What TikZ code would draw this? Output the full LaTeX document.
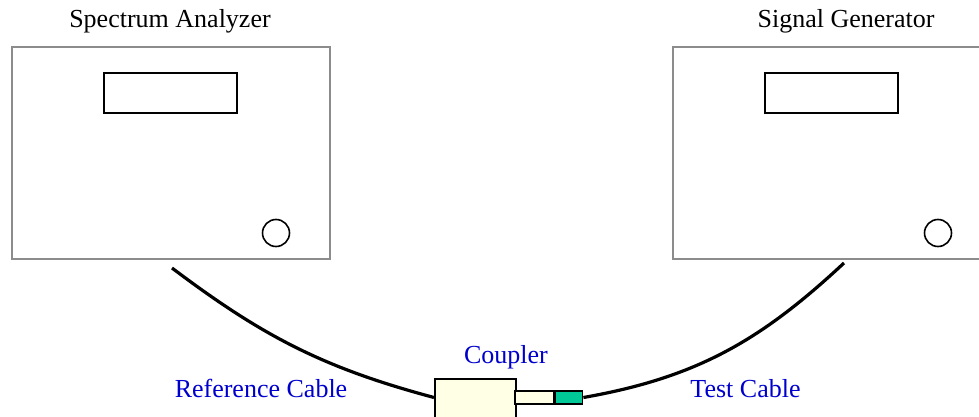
\documentclass[tikz,border=0pt]{standalone}
\usepackage{fontspec}
\setmainfont{Liberation Serif}
\definecolor{labelblue}{RGB}{0,0,204}
\definecolor{couplerfill}{RGB}{255,255,230}
\definecolor{tipgreen}{RGB}{0,200,150}
\tikzset{
	instrument/.style={draw=gray!90,line width=1pt,inner sep=0pt},
	display/.style={draw,line width=0.8pt,inner sep=0pt,minimum width=66.5pt,minimum height=20pt},
	knob/.style={draw,circle,line width=0.8pt,inner sep=0pt,minimum size=13.5pt},
	cable/.style={line width=1.6pt},
	label/.style={font=\fontsize{13}{15}\selectfont,anchor=base},
}
\begin{document}
\begin{tikzpicture}[x=0.5pt,y=-0.5pt]
		\useasboundingbox(0,0)rectangle(979,417);
		% instruments
		\node[instrument,minimum width=159pt,minimum height=106pt](sa)at(171,153){};
		\node[instrument,minimum width=154.5pt,minimum height=106pt](sg)at(827.5,153){};
		\node[display](sadisp)at(170.5,93){};
		\node[display](sgdisp)at(831.5,93){};
		\node[knob](saknob)at(276,233){};
		\node[knob](sgknob)at(938,233){};
		\node[label](salabel)at(170,28){Spectrum Analyzer};
		\node[label](sglabel)at(846,28){Signal Generator};
		% coupler
		\node[draw,fill=couplerfill,line width=0.8pt,inner sep=0pt,minimum width=40.5pt,minimum height=30pt,anchor=north west](coupler)at(434,378){};
		\node[draw,fill=couplerfill,line width=0.8pt,inner sep=0pt,minimum width=19.5pt,minimum height=6.5pt](tube)at(534.5,397.5){};
		\node[draw,fill=tipgreen,line width=0.8pt,inner sep=0pt,minimum width=13.5pt,minimum height=6.5pt,anchor=west](tip)at(tube.east){};
		\node[label,text=labelblue](cplabel)at(506,363){Coupler};
		% cables
		\coordinate(refend)at(172,268);
		\coordinate(testend)at(844,263);
		\draw[cable](refend)to[out=-37,in=165](coupler.west|-tube.center);
		\draw[cable](tip.east)to[out=10,in=-137](testend);
		\node[label,text=labelblue](reflabel)at(261,397){Reference Cable};
		\node[label,text=labelblue](testlabel)at(745.5,397){Test Cable};
	\end{tikzpicture}
\end{document}
